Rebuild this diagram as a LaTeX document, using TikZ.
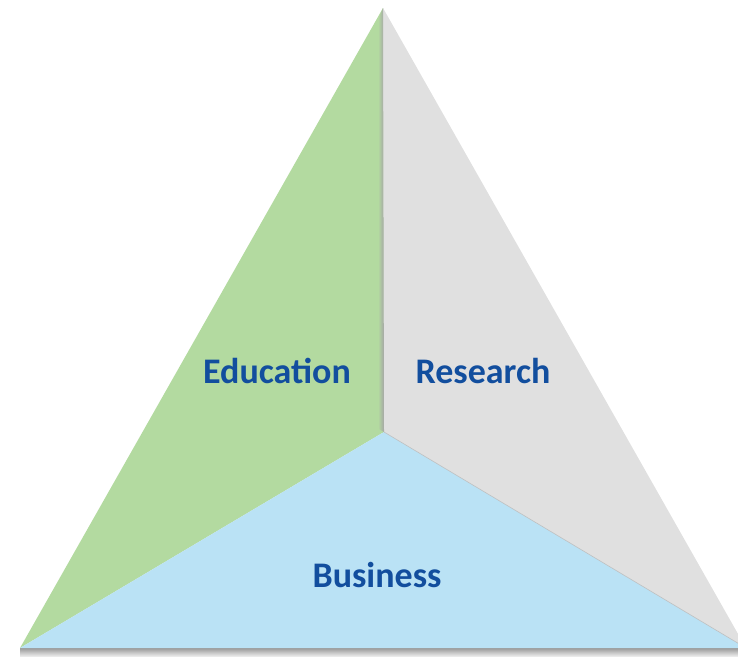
\documentclass[tikz,border=0pt]{standalone}
\usepackage{fontspec}
\setmainfont{Carlito}
\usepackage{xcolor}
\usetikzlibrary{calc}

\definecolor{eduGreen}{RGB}{179,218,160}
\definecolor{resGray}{RGB}{224,224,224}
\definecolor{busBlue}{RGB}{186,226,245}
\definecolor{labelBlue}{RGB}{18,78,158}

\tikzset{
  face/.style={draw=none},
  facelabel/.style={font=\bfseries\fontsize{36}{40}\selectfont, text=labelBlue, anchor=base}
}

\begin{document}
\begin{tikzpicture}[x=1pt,y=-1pt]
  \useasboundingbox (0,0) rectangle (738,656);
  \clip (0,0) rectangle (738,656);

  \coordinate (top) at (383,8);
  \coordinate (left) at (20,648);
  \coordinate (right) at (746,648);
  \coordinate (mid) at (384,432);

  % soft shadow under the base
  \shade[top color=black!40, bottom color=white] (20,648) rectangle (746,658);

  \fill[eduGreen, face] (top) -- (mid) -- (left) -- cycle;
  \fill[resGray, face] (top) -- (right) -- (mid) -- cycle;
  \fill[busBlue, face] (left) -- (mid) -- (right) -- cycle;

  % shadow of the grey face on the green one
  \shade[left color=eduGreen, right color=black!35] ($(top)+(-5,12)$) -- (top) -- (mid) -- ($(mid)+(-5,-3)$) -- cycle;
  \draw[black!25, line width=0.6pt] (mid) -- (right);

  \node[facelabel] (edu) at (277,383) {Education};
  \node[facelabel] (res) at (483,383) {Research};
  \node[facelabel] (bus) at (377,587) {Business};
\end{tikzpicture}
\end{document}
